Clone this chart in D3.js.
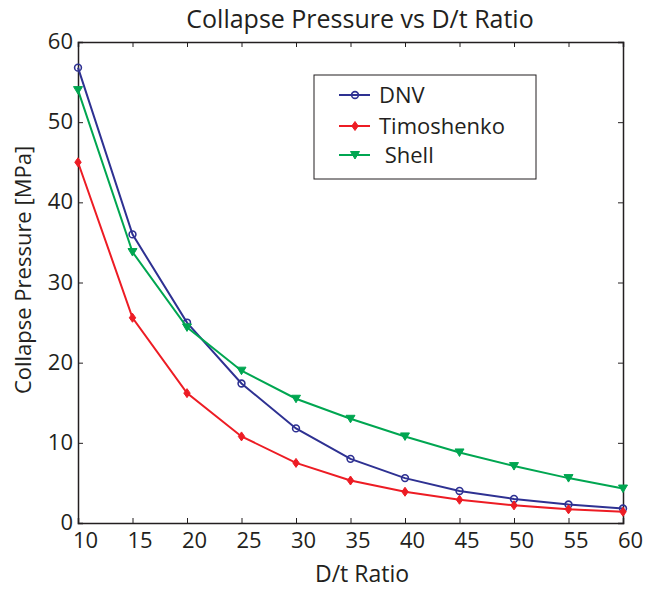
<!DOCTYPE html>
<html><head><meta charset="utf-8">
<script src="https://cdn.jsdelivr.net/npm/d3@7"></script>
<style>body{margin:0;background:#fff}svg{display:block}text{font-family:"Open Sans",Lato,sans-serif;fill:#231f20}</style>
</head><body><svg id="c" width="646" height="590"></svg>
<script>
const dtRatio = [10,15,20,25,30,35,40,45,50,55,60];
const dnv = [56.8,36.0,25.0,17.4,11.8,8.0,5.6,4.0,3.0,2.3,1.8];
const timoshenko = [45.0,25.6,16.2,10.8,7.5,5.3,3.9,2.9,2.2,1.7,1.4];
const shell = [54.0,33.8,24.4,19.0,15.5,13.0,10.8,8.8,7.1,5.6,4.3];
const xTicks = [10,15,20,25,30,35,40,45,50,55,60];
const yTicks = [0,10,20,30,40,50,60];
const seriesNames = ["DNV","Timoshenko"," Shell"];

const svg = d3.select("#c");
const L=78,R=623,T=42,B=523;
const x = d3.scaleLinear().domain([10,60]).range([L,R]);
const y = d3.scaleLinear().domain([0,60]).range([B,T]);

const series = [
 {name:seriesNames[0],vals:dnv,color:"#2e3192",marker:"circle"},
 {name:seriesNames[1],vals:timoshenko,color:"#ed1c24",marker:"diamond"},
 {name:seriesNames[2],vals:shell,color:"#00a651",marker:"tri"}
];

// axes
const ax = svg.append("g").attr("transform",`translate(0,${B})`).call(d3.axisBottom(x).tickValues(xTicks).tickSize(-5).tickPadding(9));
const axT = svg.append("g").attr("transform",`translate(0,${T})`).call(d3.axisTop(x).tickValues(xTicks).tickSize(-5).tickFormat(""));
const ay = svg.append("g").attr("transform",`translate(${L},0)`).call(d3.axisLeft(y).tickValues(yTicks).tickSize(-5).tickPadding(5));
const ayR = svg.append("g").attr("transform",`translate(${R},0)`).call(d3.axisRight(y).tickValues(yTicks).tickSize(-5).tickFormat(""));
[ax,axT,ay,ayR].forEach(g=>{g.select(".domain").attr("stroke","#231f20").attr("stroke-width",1.5);g.selectAll(".tick line").attr("stroke","#231f20");});
ax.selectAll("text").attr("font-size",22).attr("fill","#231f20").attr("dx",7);
ay.selectAll("text").attr("font-size",22).attr("fill","#231f20").attr("dy","0.3em");

// lines
function marker(g,type,color,cx,cy){
  if(type==="circle") g.append("circle").attr("cx",cx).attr("cy",cy).attr("r",3.4).attr("fill","none").attr("stroke",color).attr("stroke-width",1.6);
  else if(type==="diamond") g.append("path").attr("d",`M${cx},${cy-4.5}L${cx+3.2},${cy}L${cx},${cy+4.5}L${cx-3.2},${cy}Z`).attr("fill",color).attr("stroke",color).attr("stroke-width",1);
  else g.append("path").attr("d",`M${cx-4.5},${cy-3.5}L${cx+4.5},${cy-3.5}L${cx},${cy+4}Z`).attr("fill",color).attr("stroke",color).attr("stroke-width",1);
}
const line = d3.line().x((d,i)=>x(dtRatio[i])).y(d=>y(d));
series.forEach(s=>{
  svg.append("path").datum(s.vals).attr("d",line).attr("fill","none").attr("stroke",s.color).attr("stroke-width",2);
  const g=svg.append("g");
  s.vals.forEach((v,i)=>marker(g,s.marker,s.color,x(dtRatio[i]),y(v)));
});

// legend
svg.append("rect").attr("x",314).attr("y",75).attr("width",222).attr("height",104).attr("fill","#fff").attr("stroke","#231f20").attr("stroke-width",1);
const legY=[95,126,155];
series.forEach((s,i)=>{
  const ly=legY[i];
  svg.append("line").attr("x1",339).attr("x2",370).attr("y1",ly).attr("y2",ly).attr("stroke",s.color).attr("stroke-width",2);
  marker(svg,s.marker,s.color,355,ly);
  svg.append("text").attr("x",379).attr("y",ly+8).attr("font-size",22).attr("xml:space","preserve").text(s.name);
});

// titles
svg.append("text").attr("x",360).attr("y",28).attr("text-anchor","middle").attr("font-size",25).text("Collapse Pressure vs D/t Ratio");
svg.append("text").attr("x",362).attr("y",582).attr("text-anchor","middle").attr("font-size",23).text("D/t Ratio");
svg.append("text").attr("transform","translate(31,270) rotate(-90)").attr("text-anchor","middle").attr("font-size",22).text("Collapse Pressure [MPa]");
</script></body></html>
